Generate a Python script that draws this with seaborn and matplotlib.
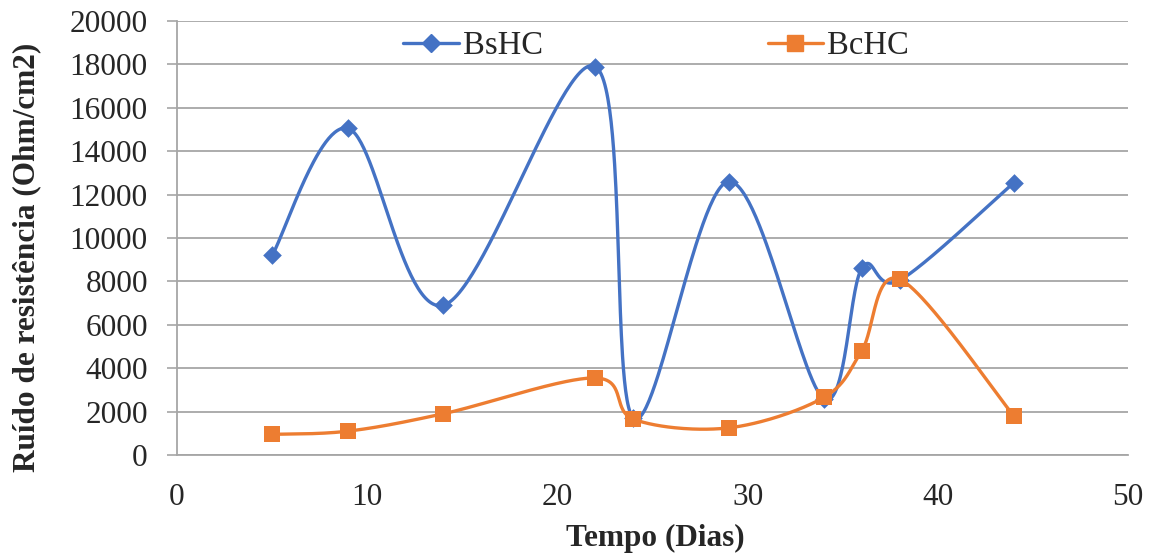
import numpy as np
import pandas as pd
import matplotlib
matplotlib.use("Agg")
import matplotlib.pyplot as plt
from matplotlib.lines import Line2D
import seaborn as sns

# Measurement days and resistance-noise values (Ohm/cm2)
dias = [5, 9, 14, 22, 24, 29, 34, 36, 38, 44]
bshc = [9200, 15050, 6900, 17900, 1700, 12600, 2600, 8600, 8050, 12550]
bchc = [950, 1100, 1900, 3550, 1650, 1250, 2650, 4800, 8100, 1800]
series_names = ["BsHC", "BcHC"]
x_ticks = [0, 10, 20, 30, 40, 50]
y_ticks = list(range(0, 20001, 2000))

BLUE = "#4472C4"
ORANGE = "#ED7D31"
GRID = "#A6A6A6"

sns.set_theme(style="white")
plt.rcParams["font.family"] = ["Liberation Serif", "DejaVu Serif"]

fig = plt.figure(figsize=(11.52, 5.55), dpi=100)
ax = fig.add_axes([177 / 1152, 1 - 455 / 555, 951 / 1152, 434 / 555])
ax.set_xlim(0, 50)
ax.set_ylim(0, 20000)


def smooth_curve(xs, ys, ax, n=60):
    """Catmull-Rom style Bezier smoothing computed in screen space."""
    pts = ax.transData.transform(np.column_stack([xs, ys]))
    m = len(pts)
    out = [pts[0]]
    t = np.linspace(0, 1, n)[1:]
    for i in range(m - 1):
        p0 = pts[i - 1] if i > 0 else pts[i]
        p1 = pts[i]
        p2 = pts[i + 1]
        p3 = pts[i + 2] if i + 2 < m else pts[i + 1]
        c1 = p1 + (p2 - p0) / 6.0
        c2 = p2 - (p3 - p1) / 6.0
        tt = t[:, None]
        seg = ((1 - tt) ** 3) * p1 + 3 * ((1 - tt) ** 2) * tt * c1 \
            + 3 * (1 - tt) * tt ** 2 * c2 + tt ** 3 * p2
        out.extend(seg)
    out = np.array(out)
    data = ax.transData.inverted().transform(out)
    return data[:, 0], data[:, 1]


# Horizontal gridlines
for yv in y_ticks:
    ax.axhline(yv, color=GRID, lw=1.3, zorder=0)

for name, vals, color, marker, msize in [
    (series_names[0], bshc, BLUE, "D", 9.5),
    (series_names[1], bchc, ORANGE, "s", 12),
]:
    cx, cy = smooth_curve(np.array(dias, float), np.array(vals, float), ax)
    sns.lineplot(x=cx, y=cy, sort=False, estimator=None, ax=ax,
                 color=color, lw=2.4, zorder=3)
    sns.scatterplot(x=dias, y=vals, ax=ax, marker=marker, s=msize ** 2,
                    color=color, edgecolor=color, linewidth=0, zorder=4)

ax.set_xlim(0, 50)
ax.set_ylim(0, 20000)
ax.set_xticks(x_ticks)
ax.set_yticks(y_ticks)
ax.set_xticklabels([str(v) for v in x_ticks])
ax.set_yticklabels([str(v) for v in y_ticks])
ax.tick_params(axis="y", which="major", length=7, width=1.2, color=GRID,
               direction="out", pad=14, labelsize=22.5, left=True)
ax.tick_params(axis="x", which="major", length=0, pad=20, labelsize=22.5)

for side in ["top", "right"]:
    ax.spines[side].set_visible(False)
for side in ["left", "bottom"]:
    ax.spines[side].set_color(GRID)
    ax.spines[side].set_linewidth(1.3)

ax.set_xlabel("Tempo (Dias)", fontsize=22.5, fontweight="bold", va="center")
ax.set_ylabel("Ruído de resistência (Ohm/cm2)", fontsize=22.5,
              fontweight="bold", va="center")
ax.xaxis.set_label_coords((655 - 177) / 951, (455 - 538) / 434)
ax.yaxis.set_label_coords((27 - 177) / 951, (455 - 257) / 434)

handles = [
    Line2D([], [], color=BLUE, lw=2.4, marker="D", markersize=9.5),
    Line2D([], [], color=ORANGE, lw=2.4, marker="s", markersize=12),
]
ax.legend(handles, series_names, loc="center", ncol=2,
          bbox_to_anchor=((656 - 177) / 951, (455 - 46) / 434),
          frameon=False, fontsize=23.5, handlelength=1.7, handletextpad=0.12,
          columnspacing=6.9, borderaxespad=0)

fig.savefig("out.png", dpi=100)
